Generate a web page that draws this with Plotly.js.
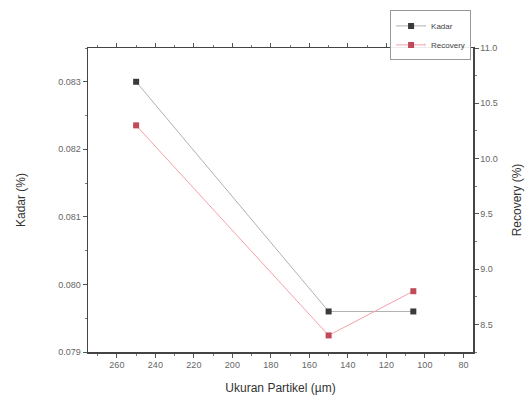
<!DOCTYPE html>
<html><head><meta charset="utf-8">
<script src="https://cdn.plot.ly/plotly-3.0.1.min.js"></script>
<style>body{margin:0;background:#fff}#c{width:527px;height:406px}</style>
</head><body><div id="c"></div>
<script>
const ukuran = [250, 150, 106];
const kadar = [0.0830, 0.0796, 0.0796];
const recovery = [10.30, 8.40, 8.80];

const font = {family: 'Liberation Sans, Arial, sans-serif', color: '#333'};
const traces = [
  {x: ukuran, y: kadar, name: 'Kadar', type: 'scatter', mode: 'lines+markers',
   line: {color: '#b0b0b0', width: 1}, marker: {symbol: 'square', size: 6, color: '#3a3a3a'}},
  {x: ukuran, y: recovery, name: 'Recovery', type: 'scatter', mode: 'lines+markers', yaxis: 'y2',
   line: {color: '#f4a0a8', width: 1}, marker: {symbol: 'square', size: 6, color: '#c04a58'}}
];
const layout = {
  width: 527, height: 406,
  margin: {l: 88, r: 54, t: 47, b: 54},
  paper_bgcolor: '#fff', plot_bgcolor: '#fff',
  font: font,
  showlegend: true,
  legend: {x: 0.995, xanchor: 'right', y: 1.12, yanchor: 'top', bgcolor: 'rgba(255,255,255,0.9)',
           bordercolor: '#999', borderwidth: 1, font: {size: 8, color: '#444'},
           tracegroupgap: 0, itemwidth: 30},
  xaxis: {range: [275, 75], tickvals: [260,240,220,200,180,160,140,120,100,80],
          ticks: 'outside', ticklen: 4, tickcolor: '#555', showline: true, linecolor: '#444', linewidth: 1.5,
          mirror: 'ticks', showgrid: false, zeroline: false,
          minor: {dtick: 10, ticks: 'outside', ticklen: 2, tickcolor: '#777'},
          tickfont: {size: 9, color: '#666'},
          title: {text: 'Ukuran Partikel (µm)', font: {size: 12, color: '#333'}, standoff: 14}},
  yaxis: {range: [0.079, 0.0835], tickvals: [0.079,0.080,0.081,0.082,0.083], tickformat: '.3f',
          ticks: 'outside', ticklen: 4, tickcolor: '#555', showline: true, linecolor: '#444', linewidth: 1.5,
          showgrid: false, zeroline: false,
          minor: {dtick: 0.0005, ticks: 'outside', ticklen: 2, tickcolor: '#777'},
          tickfont: {size: 9, color: '#666'},
          title: {text: 'Kadar (%)', font: {size: 12, color: '#333'}, standoff: 30}},
  yaxis2: {range: [8.25, 11.0], tickvals: [8.5,9.0,9.5,10.0,10.5,11.0], tickformat: '.1f',
           overlaying: 'y', side: 'right',
           ticks: 'outside', ticklen: 4, tickcolor: '#555', showline: true, linecolor: '#444', linewidth: 1.5,
           showgrid: false, zeroline: false,
           minor: {dtick: 0.25, ticks: 'outside', ticklen: 2, tickcolor: '#777'},
           tickfont: {size: 9, color: '#666'},
           title: {text: 'Recovery (%)', font: {size: 12, color: '#333'}, standoff: 16}}
};
Plotly.newPlot('c', traces, layout, {displayModeBar: false, staticPlot: true});
</script></body></html>
